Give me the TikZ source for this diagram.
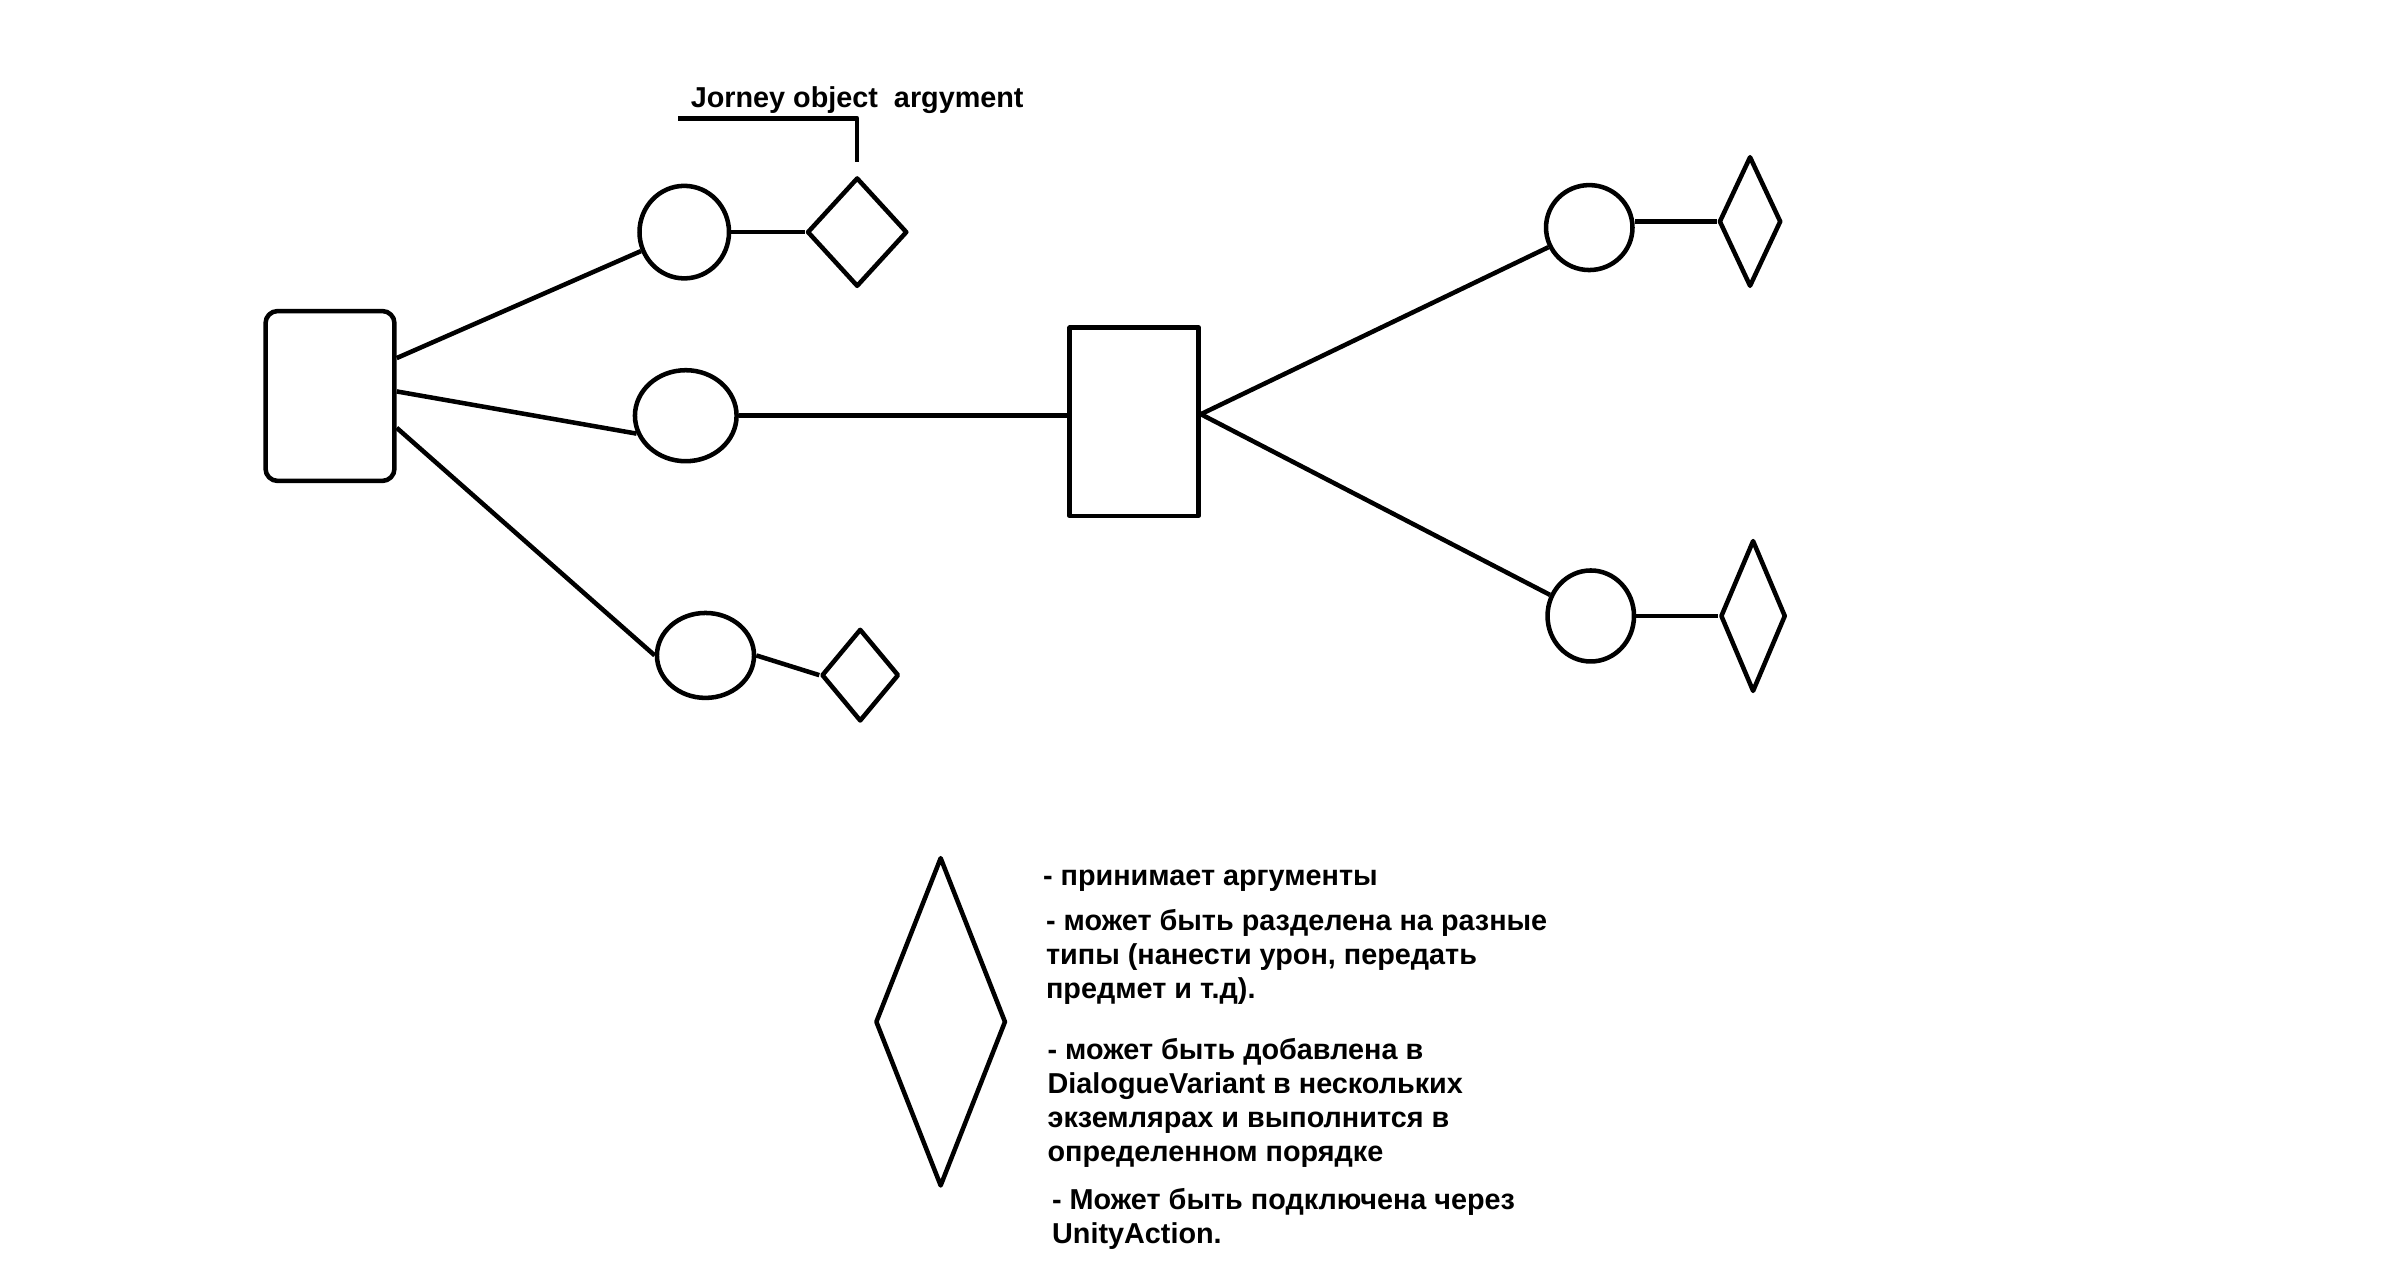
\documentclass[tikz,border=0pt]{standalone}
\usepackage{fontspec}
\setmainfont{Liberation Sans}
\usetikzlibrary{shapes.geometric,positioning}

\tikzset{
  oval/.style={draw,ellipse,inner sep=0pt},
  arg/.style={draw,diamond,inner sep=0pt},
  box/.style={draw,rectangle,inner sep=0pt},
  note/.style={align=left,anchor=north west,inner sep=0pt,
    font=\bfseries\fontsize{10.8pt}{12.8pt}\selectfont},
}

\begin{document}
\begin{tikzpicture}[x=0.02cm,y=-0.02cm,line width=1.7pt,line join=round,on grid]
  \useasboundingbox (0,0) rectangle (1570,843.7);
  % left part
  \node[box,rounded corners=0.16cm,minimum width=1.7cm,minimum height=2.24cm] (dlg) at (217.5,261) {};
  \node[oval,minimum width=1.18cm,minimum height=1.22cm] (ca) at (451,153) {};
  \node[oval,minimum width=1.34cm,minimum height=1.2cm] (cb) at (452,274) {};
  \node[oval,minimum width=1.28cm,minimum height=1.12cm] (cc) at (465,432) {};
  \node[arg,minimum width=1.32cm,minimum height=1.44cm] (da) [right=2.28cm of ca] {};
  \node[arg,minimum width=1.02cm,minimum height=1.22cm] (dc) [below right=0.26cm and 2.04cm of cc] {};
  % right part
  \node[box,minimum width=1.7cm,minimum height=2.48cm] (var) at (747.5,278) {};
  \node[oval,minimum width=1.14cm,minimum height=1.12cm] (cd) at (1047.5,150) {};
  \node[oval,minimum width=1.14cm,minimum height=1.2cm] (ce) at (1048.5,406) {};
  \node[arg,minimum width=0.82cm,minimum height=1.72cm] (dd) [above right=0.08cm and 2.12cm of cd] {};
  \node[arg,minimum width=0.86cm,minimum height=2.0cm] (de) [right=2.14cm of ce] {};
  % label
  \node[inner sep=0pt,font=\bfseries\fontsize{10.8pt}{12.8pt}\selectfont] (jlbl) at (565,66) {Jorney object\ \ argyment};
  \coordinate (lead) at (447,78);
  \draw (lead) -| ([yshift=0.18cm]da.north);
  % legend
  \node[arg,minimum width=1.72cm,minimum height=4.34cm] (dl) at (620,673.5) {};
  \node[note] (n1) at (686,572) {- принимает аргументы};
  \node[note] (n2) at (688,598) {- может быть разделена на разные\\типы (нанести урон, передать\\предмет и т.д).};
  \node[note] (n3) at (689,683) {- может быть добавлена в\\DialogueVariant в нескольких\\экземлярах и выполнится в\\определенном порядке};
  \node[note] (n4) at (692,782) {- Может быть подключена через\\UnityAction.};
  % links
  \draw ([yshift=0.5cm]dlg.east) -- (ca);
  \draw ([yshift=0.06cm]dlg.east) -- (cb.200);
  \draw ([yshift=-0.42cm]dlg.east) -- (cc.180);
  \draw (ca) -- (da);
  \draw (cb.east) -- (cb.east -| var.west);
  \draw (cc.east) -- (dc.west);
  \draw ([yshift=0.1cm]var.east) -- (cd);
  \draw ([yshift=0.1cm]var.east) -- (ce);
  \draw (dd.west -| cd.east) -- (dd.west);
  \draw (ce) -- (de);
\end{tikzpicture}
\end{document}
